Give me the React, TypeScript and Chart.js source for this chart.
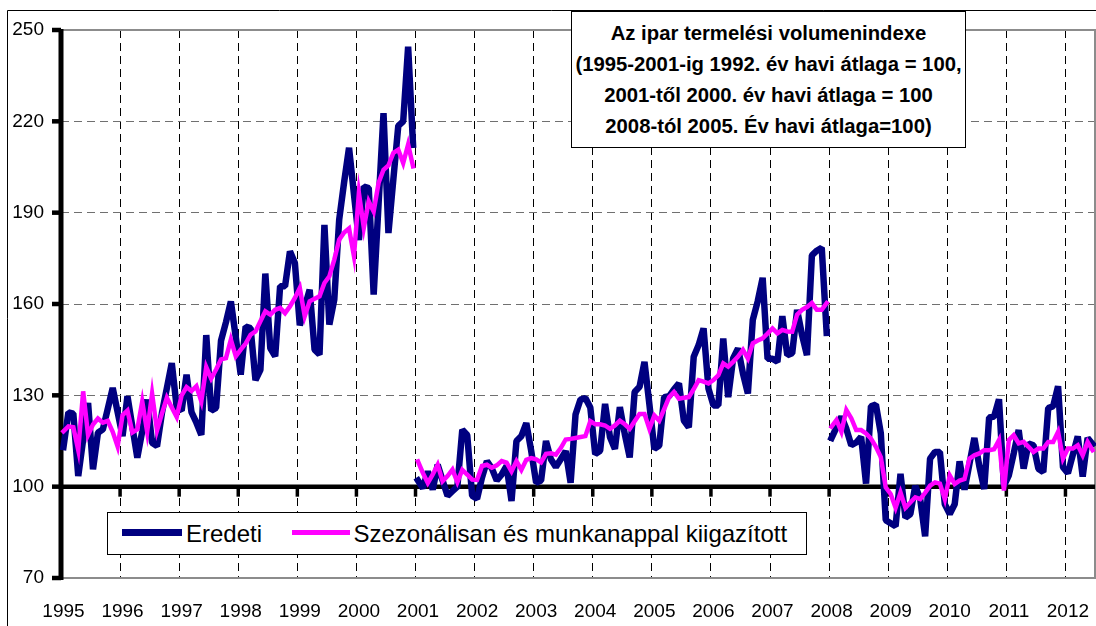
import React, { useEffect, useRef } from 'react';
import { Chart, registerables } from 'chart.js';

Chart.register(...registerables);

// ---------- data ----------
const YEARS = [1995, 1996, 1997, 1998, 1999, 2000, 2001, 2002, 2003, 2004, 2005, 2006, 2007, 2008, 2009, 2010, 2011, 2012];
const MONTHS_IN_LAST_YEAR = 6;
const Y_TICKS = [70, 100, 130, 160, 190, 220, 250];

// Eredeti (original) index, base 1992 = 100
const eredeti_1995_2000 = [
  113, 124.4, 124, 103.5, 115.5, 127.5, 105.7, 117.7, 118.8, 125.6, 132.4, 124.5,
  116.6, 129.7, 119.6, 109.5, 118.2, 128.6, 114.4, 113.3, 124.2, 132.4, 140.6, 126,
  125, 136.8, 124.5, 121, 117, 149.8, 125, 125.9, 148, 154, 160.8, 149,
  136.8, 152.6, 152.1, 135, 138.4, 170, 145.5, 142.8, 165.8, 165.8, 177.3, 173.5,
  153, 159, 164.7, 145, 143.4, 186, 153.2, 161.4, 187.7, 200, 211.3, 196,
  181, 198.6, 198.1, 163.1, 193, 222.7, 183.3, 201, 218.5, 220, 244.5, 212.3,
];
// base 2000 = 100
const eredeti_2001_2007 = [
  102, 99.5, 105, 99, 107.2, 102, 97, 98.5, 100, 118.7, 117, 97,
  96, 103, 108.4, 106, 102, 104, 106.8, 95.3, 115, 116.6, 120.9, 111.7,
  101.3, 102, 115, 109, 106.5, 109, 111.7, 101.3, 123.7, 128.6, 129.1, 126,
  110.7, 111.8, 127.2, 116.2, 112.4, 126.1, 117.3, 109.6, 131.1, 132.8, 141, 127,
  112.4, 113.5, 129.4, 129.7, 132, 133.9, 121.7, 119.5, 142.7, 146.5, 152, 132.2,
  126.7, 126.7, 148.7, 129.4, 142.1, 145.4, 137.2, 130.6, 154.8, 160.9, 168.6, 142,
  142, 141, 156, 143.2, 143.8, 158.1, 149.8, 143.2, 176, 177.5, 178.5, 150.5,
];
// base 2005 = 100
const eredeti_2008_2012 = [
  116, 119.5, 123, 119, 113.6, 114.5, 116.4, 101, 126.4, 127, 117.5, 89,
  88, 87, 104.2, 89.8, 91, 100.3, 95.9, 83.7, 109.2, 111.4, 111.4, 94.2,
  91, 94.2, 108.3, 99, 107.5, 116, 106.8, 99.2, 122.7, 123, 128.7, 100.3,
  103.7, 111, 118.6, 105.9, 114.2, 113.6, 105.9, 104.8, 125.8, 126.4, 133, 106.4,
  104.4, 110.5, 116.5, 103.3, 116, 114,
];

// Szezonálisan és munkanappal kiigazított (seasonally and working-day adjusted)
const kiigazitott_1995_2000 = [
  118.2, 119.8, 119.5, 112, 131.3, 117, 120.4, 122.4, 121, 121.6, 118, 113.2,
  123.5, 125, 117.8, 118.8, 128, 118, 130.6, 118.5, 124, 129.2, 126, 122.9,
  130, 132.7, 131.4, 133, 128, 139.3, 135.5, 138.5, 141.8, 142.2, 148.3, 142.8,
  145, 147, 149.9, 151, 154.3, 157.6, 156.5, 158.1, 158.7, 157, 159.2, 162,
  165.3, 156, 160.9, 161.7, 162.5, 166.9, 169.1, 174.6, 181.1, 183.5, 184.8, 175.7,
  196.5, 185, 193.7, 190.4, 199.8, 204.1, 205.5, 209.6, 210.7, 206.3, 212.4, 205.2,
];
const kiigazitott_2001_2007 = [
  108.3, 104.5, 101.2, 104, 107.2, 101.8, 103.5, 105.6, 101.5, 105.5, 104, 102.3,
  102.2, 106.8, 107.2, 106.2, 107, 108.4, 107.9, 105, 108.4, 105.5, 108.8, 109.4,
  109, 108, 110.8, 111, 110.5, 112.7, 115.5, 115.7, 116, 116.3, 116.6, 121.5,
  120.5, 120.5, 120.1, 119, 120.1, 121.7, 120.5, 119, 121.5, 123.9, 123.9, 119,
  123.4, 121.7, 125.5, 129.4, 131.1, 128.9, 129.2, 129.4, 132, 135, 134.5, 133.9,
  135, 136.6, 140.5, 139.4, 141, 142.7, 144.9, 142.1, 147.1, 148, 148.7, 150.3,
  152, 150.4, 151.5, 151, 150.9, 156.5, 158.1, 159, 160.3, 158.1, 158.1, 160.3,
];
const kiigazitott_2008_2012 = [
  119.7, 121.9, 118, 125.2, 122.5, 118.6, 118.6, 117.5, 115.8, 113.1, 109.7, 99.8,
  97.6, 93.1, 98.1, 93.1, 94.8, 96.5, 95.9, 98, 100.3, 101.4, 101, 95.9,
  103.7, 100.9, 102, 102.5, 109.2, 110.3, 110.9, 112, 112, 112.3, 115.3, 98.7,
  115.3, 116.9, 114.2, 114.7, 113.1, 111.4, 112.5, 112.5, 114.7, 114.7, 118, 109.2,
  112.5, 112.5, 113.6, 110.3, 114.7, 112,
];

const TITLE_LINES = [
  'Az ipar termelési volumenindexe',
  '(1995-2001-ig 1992. év havi átlaga = 100,',
  '2001-től 2000. év havi átlaga = 100',
  '2008-tól 2005. Év havi átlaga=100)',
];
const SERIES_LABELS = ['Eredeti', 'Szezonálisan és munkanappal kiigazított'];
const NAVY = '#000080';
const MAGENTA = '#FF00FF';
const FONT = '"Liberation Sans", Arial, Helvetica, sans-serif';

// ---------- derived ----------
const labels: string[] = [];
YEARS.forEach((y, yi) => {
  const n = yi === YEARS.length - 1 ? MONTHS_IN_LAST_YEAR : 12;
  for (let m = 1; m <= n; m++) labels.push(`${y}. ${String(m).padStart(2, '0')}.`);
});
const eredeti = [...eredeti_1995_2000, ...eredeti_2001_2007, ...eredeti_2008_2012];
const kiigazitott = [...kiigazitott_1995_2000, ...kiigazitott_2001_2007, ...kiigazitott_2008_2012];
// base changes: no line between Dec 2000 - Jan 2001 and Dec 2007 - Jan 2008
const BREAKS = [eredeti_1995_2000.length - 1, eredeti_1995_2000.length + eredeti_2001_2007.length - 1];
const breakSeg = (ctx: any) => (BREAKS.includes(ctx.p0DataIndex) ? 'rgba(0,0,0,0)' : undefined);

const decor = {
  id: 'decor',
  beforeDraw(chart: any) {
    const { ctx, width, height } = chart;
    ctx.save();
    ctx.fillStyle = '#fff';
    ctx.fillRect(0, 0, width, height);
    ctx.strokeStyle = '#000';
    ctx.lineWidth = 1;
    ctx.beginPath();
    ctx.moveTo(7.5, height);
    ctx.lineTo(7.5, 10.5);
    ctx.lineTo(width, 10.5);
    ctx.stroke();
    ctx.restore();
  },
  beforeDatasetsDraw(chart: any) {
    const { ctx, chartArea: a, scales } = chart;
    const x = scales.x;
    const y = scales.y;
    ctx.save();
    // plot area frame (grey)
    ctx.strokeStyle = '#8c8c8c';
    ctx.lineWidth = 2;
    ctx.beginPath();
    ctx.moveTo(a.left, a.top);
    ctx.lineTo(a.right, a.top);
    ctx.lineTo(a.right, a.bottom);
    ctx.lineTo(a.left, a.bottom);
    ctx.stroke();
    // category axis crossing at 100
    const y100 = y.getPixelForValue(100);
    ctx.strokeStyle = '#000';
    ctx.lineWidth = 4.5;
    ctx.beginPath();
    ctx.moveTo(a.left, y100);
    ctx.lineTo(a.right, y100);
    ctx.stroke();
    ctx.lineWidth = 3.5;
    for (let i = 12; i < labels.length; i += 12) {
      const px = (x.getPixelForTick(i) + x.getPixelForTick(i - 1)) / 2;
      ctx.beginPath();
      ctx.moveTo(px, y100);
      ctx.lineTo(px, y100 + 10);
      ctx.stroke();
    }
    // value axis
    ctx.lineWidth = 5;
    ctx.beginPath();
    ctx.moveTo(a.left, a.top - 1);
    ctx.lineTo(a.left, a.bottom + 2);
    ctx.stroke();
    ctx.lineWidth = 4.5;
    Y_TICKS.forEach((v) => {
      const py = y.getPixelForValue(v);
      ctx.beginPath();
      ctx.moveTo(a.left - 9, py);
      ctx.lineTo(a.left, py);
      ctx.stroke();
    });
    ctx.restore();
  },
};

export default function App() {
  const ref = useRef<HTMLCanvasElement>(null);

  useEffect(() => {
    if (!ref.current) return;
    const chart = new Chart(ref.current, {
      type: 'line',
      data: {
        labels,
        datasets: [
          {
            label: SERIES_LABELS[0],
            data: eredeti,
            borderColor: NAVY,
            borderWidth: 6.5,
            pointRadius: 0,
            tension: 0,
            borderJoinStyle: 'bevel',
            borderCapStyle: 'square',
            order: 2,
            segment: { borderColor: breakSeg },
          },
          {
            label: SERIES_LABELS[1],
            data: kiigazitott,
            borderColor: MAGENTA,
            borderWidth: 4.5,
            pointRadius: 0,
            tension: 0,
            borderJoinStyle: 'miter',
            borderCapStyle: 'square',
            order: 1,
            segment: { borderColor: breakSeg },
          },
        ],
      },
      options: {
        responsive: false,
        animation: false,
        devicePixelRatio: 1,
        events: [],
        layout: { padding: { left: 0, right: 1, top: 30, bottom: 0 } },
        plugins: {
          legend: { display: false },
          title: { display: false },
          tooltip: { enabled: false },
        },
        scales: {
          x: {
            type: 'category',
            offset: true,
            grid: {
              offset: true,
              drawTicks: false,
              lineWidth: 1,
              color: (ctx: any) => (ctx.index > 0 && ctx.index % 12 === 0 ? '#000' : 'rgba(0,0,0,0)'),
            },
            border: { display: false, dash: [8, 5] },
            ticks: {
              autoSkip: false,
              maxRotation: 0,
              minRotation: 0,
              padding: 22,
              color: '#000',
              font: { family: FONT, size: 19 },
              callback: (_v: any, i: number) => (i % 12 === 0 ? String(YEARS[i / 12]) : ''),
            },
            afterFit: (s: any) => {
              s.height = 48;
              s.paddingLeft = 0;
              s.paddingRight = 0;
            },
          },
          y: {
            min: 70,
            max: 250,
            afterBuildTicks: (s: any) => {
              s.ticks = Y_TICKS.map((v) => ({ value: v }));
            },
            grid: {
              drawTicks: false,
              lineWidth: 1,
              color: (ctx: any) => {
                const v = ctx.tick ? ctx.tick.value : null;
                return v === 70 || v === 100 || v === 250 || v === null ? 'rgba(0,0,0,0)' : '#707070';
              },
            },
            border: { display: false, dash: [8, 5] },
            ticks: {
              padding: 17,
              color: '#000',
              font: { family: FONT, size: 19 },
            },
            afterFit: (s: any) => {
              s.width = 61;
              s.paddingTop = 0;
              s.paddingBottom = 0;
            },
          },
        },
      } as any,
      plugins: [decor],
    });
    return () => chart.destroy();
  }, []);

  const abs = (o: React.CSSProperties): React.CSSProperties => ({ position: 'absolute', boxSizing: 'border-box', ...o });

  return (
    <div style={{ position: 'absolute', left: 0, top: 0, width: 1096, height: 626, overflow: 'hidden', background: '#fff' }}>
      <canvas ref={ref} width={1096} height={626} style={{ position: 'absolute', left: 0, top: 0, width: 1096, height: 626 }} />
      {/* title box */}
      <div style={abs({ left: 571, top: 11, width: 395, height: 137, border: '1px solid #000', background: '#fff' })} />
      <div
        style={abs({
          left: 571,
          top: 18,
          width: 395,
          textAlign: 'center',
          fontFamily: FONT,
          fontWeight: 'bold',
          fontSize: 20.3,
          lineHeight: '31px',
          color: '#000',
          whiteSpace: 'nowrap',
        })}
      >
        {TITLE_LINES.map((l) => (
          <div key={l}>{l}</div>
        ))}
      </div>
      {/* legend */}
      <div style={abs({ left: 107, top: 512, width: 700, height: 43, border: '1px solid #000', background: '#fff' })} />
      <div style={abs({ left: 122, top: 529, width: 60, height: 7, background: NAVY })} />
      <div style={abs({ left: 186, top: 522.2, fontFamily: FONT, fontSize: 24, lineHeight: '24px', color: '#000', whiteSpace: 'nowrap' })}>
        {SERIES_LABELS[0]}
      </div>
      <div style={abs({ left: 292, top: 530.3, width: 58, height: 4.5, background: MAGENTA })} />
      <div style={abs({ left: 353.5, top: 522.2, fontFamily: FONT, fontSize: 24, lineHeight: '24px', color: '#000', whiteSpace: 'nowrap' })}>
        {SERIES_LABELS[1]}
      </div>
    </div>
  );
}
